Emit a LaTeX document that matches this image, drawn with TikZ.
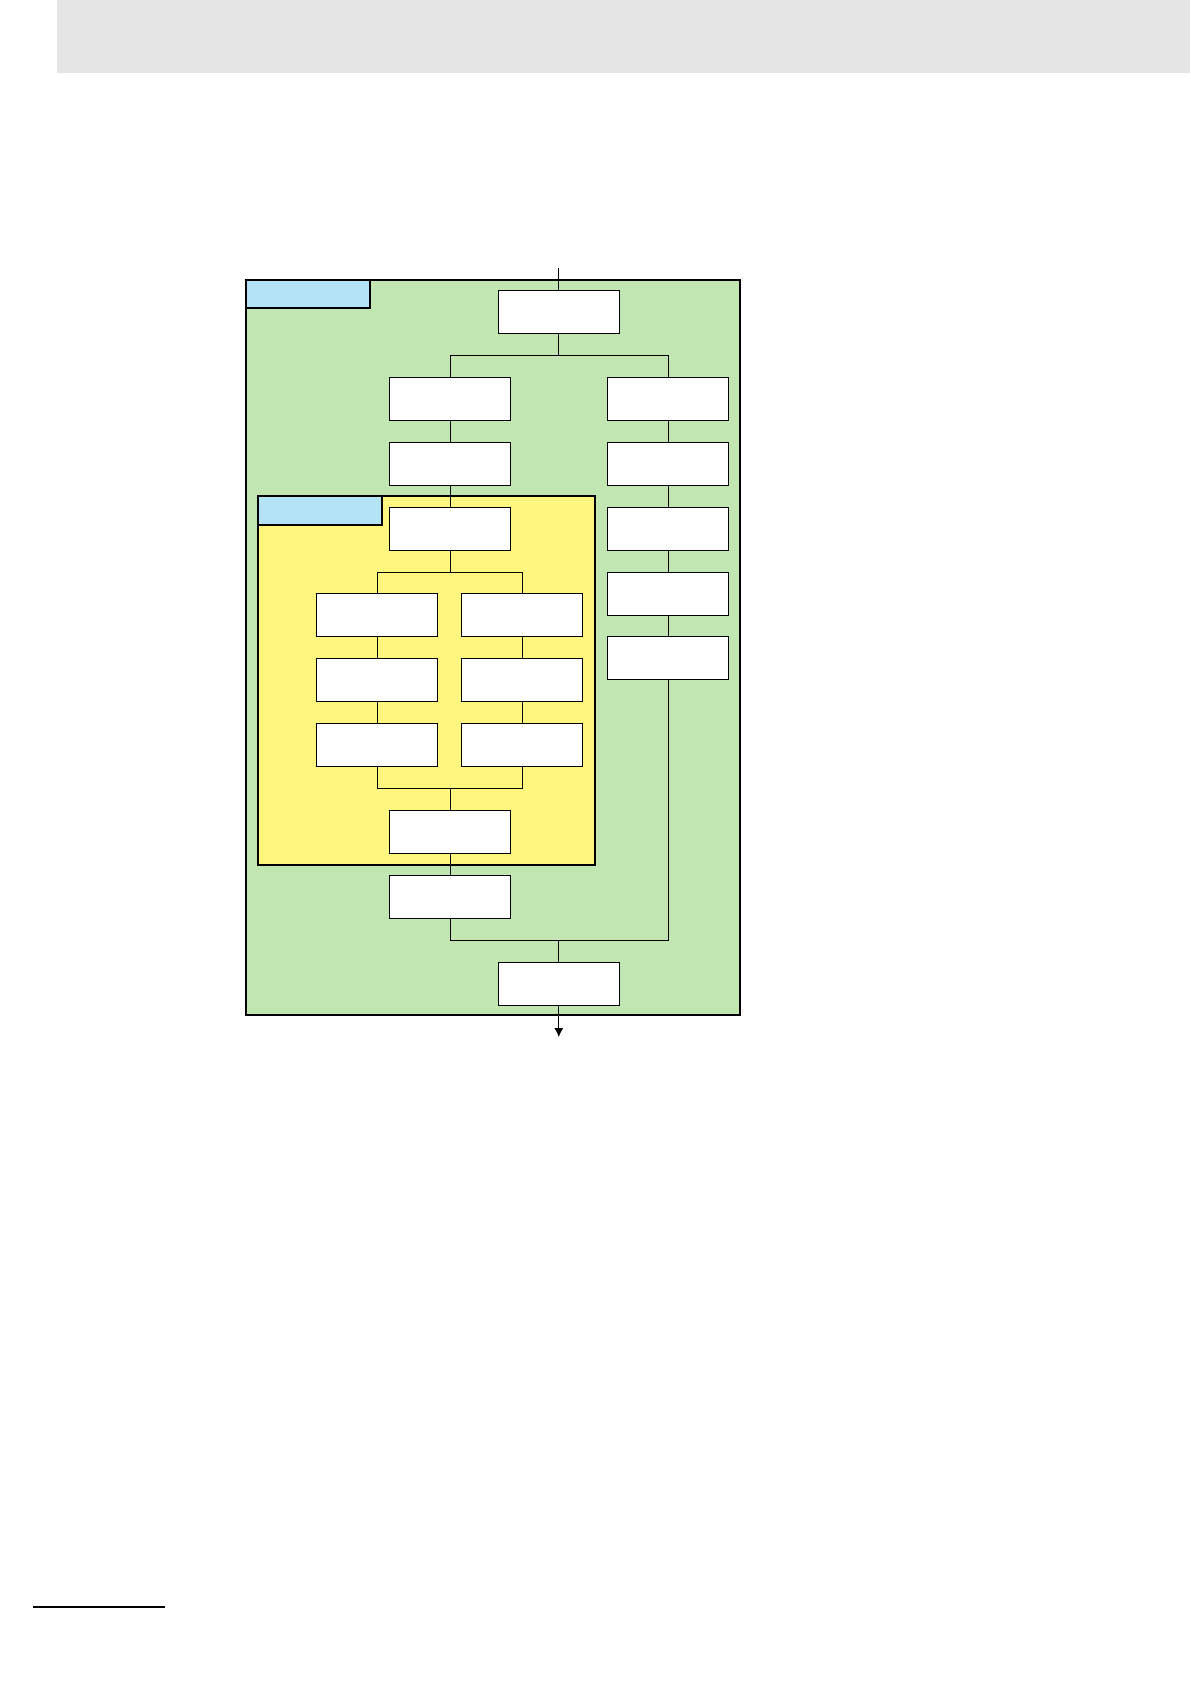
\documentclass[tikz,border=0pt]{standalone}
\usetikzlibrary{arrows.meta}
\definecolor{headgray}{RGB}{229,229,229}
\definecolor{outergreen}{RGB}{194,230,178}
\definecolor{inneryellow}{RGB}{255,246,128}
\definecolor{tagblue}{RGB}{180,227,246}
\begin{document}
\begin{tikzpicture}[x=0.5pt, y=-0.5pt, every node/.style={font=\small},
	stage/.style={rectangle, draw, fill=white, line width=0.5pt, minimum width=60.7pt, minimum height=21.5pt, inner sep=0pt},
	link/.style={line width=0.5pt},
	frame/.style={draw, line width=1pt}]
				\useasboundingbox (0,0) rectangle (1190,1684);

				% Page header and footer rule
				\fill[headgray] (57,0) rectangle (1190,73.5);
				\draw[line width=1pt] (33,1606.7) -- (165,1606.7);

				% Frames
				\draw[frame, fill=outergreen] (245.7,280) rectangle (740,1015.3);
				\draw[frame, fill=tagblue] (245.7,280) rectangle (370,308);
				\draw[frame, fill=inneryellow] (257.7,496) rectangle (595.3,864.7);
				\draw[frame, fill=tagblue] (257.7,496) rectangle (382,525);

				% Nodes
				\node[stage] (start) at (558.8,311.8) {};
				\node[stage] (l1) at (450,398.8) {};
				\node[stage] (l2) at (450,463.8) {};
				\node[stage] (r1) at (668,398.8) {};
				\node[stage] (r2) at (668,463.8) {};
				\node[stage] (r3) at (668,528.8) {};
				\node[stage] (r4) at (668,593.8) {};
				\node[stage] (r5) at (668,658.3) {};
				\node[stage] (in) at (450,528.8) {};
				\node[stage] (a1) at (377,614.8) {};
				\node[stage] (a2) at (377,680.3) {};
				\node[stage] (a3) at (377,745.3) {};
				\node[stage] (b1) at (522,614.8) {};
				\node[stage] (b2) at (522,680.3) {};
				\node[stage] (b3) at (522,745.3) {};
				\node[stage] (out) at (450,831.8) {};
				\node[stage] (l3) at (450,896.8) {};
				\node[stage] (stop) at (558.8,983.8) {};

				% Junctions
				\coordinate (entry) at (558.8,268.3);
				\coordinate (split) at (558.8,355.3);
				\coordinate (fork) at (450,572);
				\coordinate (join) at (450,788.3);
				\coordinate (merge) at (558.8,940);
				\coordinate (exit) at (558.8,1037);

				% Links
				\draw[link] (entry) -- (start);
				\draw[link] (start) -- (split) -| (l1);
				\draw[link] (split) -| (r1);
				\draw[link] (l1) -- (l2);
				\draw[link] (l2) -- (in);
				\draw[link] (r1) -- (r2);
				\draw[link] (r2) -- (r3);
				\draw[link] (r3) -- (r4);
				\draw[link] (r4) -- (r5);
				\draw[link] (in) -- (fork) -| (a1);
				\draw[link] (fork) -| (b1);
				\draw[link] (a1) -- (a2);
				\draw[link] (a2) -- (a3);
				\draw[link] (b1) -- (b2);
				\draw[link] (b2) -- (b3);
				\draw[link] (a3) |- (join);
				\draw[link] (b3) |- (join);
				\draw[link] (join) -- (out);
				\draw[link] (out) -- (l3);
				\draw[link] (l3) |- (merge);
				\draw[link] (r5) |- (merge);
				\draw[link] (merge) -- (stop);
				\draw[link, -{Latex[length=4.5pt, width=4.5pt]}] (stop) -- (exit);
			\end{tikzpicture}
\end{document}
